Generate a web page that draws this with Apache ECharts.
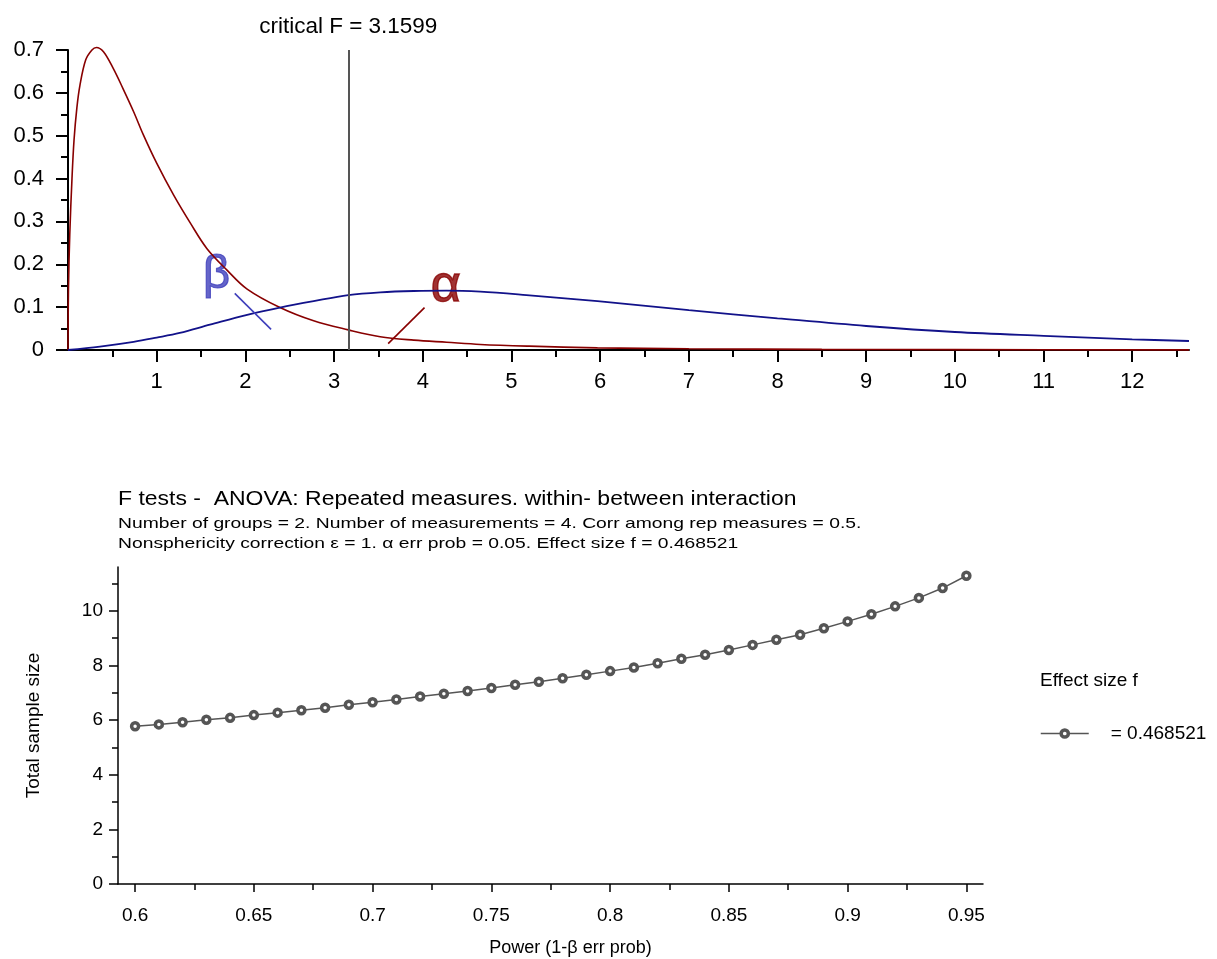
<!DOCTYPE html>
<html>
<head>
<meta charset="utf-8">
<title>F tests - ANOVA power plot</title>
<script src="https://cdn.jsdelivr.net/npm/echarts@6/dist/echarts.min.js"></script>
<style>
  html, body { margin: 0; padding: 0; background: #fff; }
  #chart { width: 1217px; height: 959px; }
</style>
</head>
<body>
<div id="chart"></div>
<script>
// ---- top plot: H0 (central) and H1 (noncentral) F densities ----
const h0X = [0, 0.005, 0.02, 0.045, 0.068, 0.1, 0.135, 0.2, 0.27, 0.32, 0.4, 0.51, 0.62, 0.74, 0.85,
  1.0, 1.19, 1.38, 1.565, 1.79, 2.02, 2.39, 2.77, 3.16, 3.52, 3.9, 4.27, 4.65, 5.2, 5.97, 7.0, 8.5, 10.0, 12.64]
const h0Y = [0, 0.14, 0.27, 0.40, 0.49, 0.565, 0.618, 0.677, 0.700, 0.706, 0.696, 0.657, 0.610, 0.556, 0.502,
  0.436, 0.362, 0.296, 0.237, 0.187, 0.142, 0.099, 0.068, 0.047, 0.031, 0.023, 0.018, 0.013, 0.009, 0.005, 0.003, 0.0015, 0.0008, 0.0003]

const h1X = [0, 0.36, 0.74, 1.0, 1.26, 1.6, 2.02, 2.39, 2.77, 3.16, 3.52, 3.9, 4.27, 4.65, 5.17, 5.97,
  7.0, 8.0, 9.0, 10.0, 11.0, 12.0, 12.64]
const h1Y = [0, 0.008, 0.019, 0.029, 0.040, 0.059, 0.082, 0.099, 0.114, 0.128, 0.1346, 0.1377, 0.1385, 0.136, 0.128, 0.114,
  0.093, 0.074, 0.056, 0.042, 0.033, 0.025, 0.021]

const criticalF = 3.1599

// little pointer strokes for the beta / alpha areas
const betaLineX = [1.88, 2.29]
const betaLineY = [0.132, 0.048]
const alphaLineX = [4.02, 3.61]
const alphaLineY = [0.099, 0.015]
const betaLabelAt = [1.676, 0.175]
const alphaLabelAt = [4.26, 0.147]

const topXTicks = [1, 2, 3, 4, 5, 6, 7, 8, 9, 10, 11, 12]

// ---- bottom plot: total sample size vs power ----
const power = [0.60, 0.61, 0.62, 0.63, 0.64, 0.65, 0.66, 0.67, 0.68, 0.69, 0.70, 0.71,
  0.72, 0.73, 0.74, 0.75, 0.76, 0.77, 0.78, 0.79, 0.80, 0.81, 0.82, 0.83,
  0.84, 0.85, 0.86, 0.87, 0.88, 0.89, 0.90, 0.91, 0.92, 0.93, 0.94, 0.95]
const sampleSize = [5.77, 5.84, 5.92, 6.01, 6.08, 6.18, 6.27, 6.36, 6.45, 6.56, 6.65, 6.75,
  6.86, 6.96, 7.06, 7.17, 7.29, 7.40, 7.53, 7.66, 7.79, 7.92, 8.08, 8.24,
  8.39, 8.56, 8.75, 8.94, 9.12, 9.36, 9.61, 9.87, 10.16, 10.47, 10.83, 11.28]

const powerTicks = [0.6, 0.65, 0.7, 0.75, 0.8, 0.85, 0.9, 0.95]
const powerMinorTicks = [0.625, 0.675, 0.725, 0.775, 0.825, 0.875, 0.925]
const sizeTicks = [0, 2, 4, 6, 8, 10]
const effectSizeLabel = '= 0.468521'

const titleText = 'F tests -  ANOVA: Repeated measures. within- between interaction'
const subLine1 = 'Number of groups = 2. Number of measurements = 4. Corr among rep measures = 0.5.'
const subLine2 = 'Nonsphericity correction ε = 1. α err prob = 0.05. Effect size f = 0.468521'

const FONT = '"Liberation Sans", Arial, sans-serif'
const RED = '#880000'
const NAVY = '#12128a'
const BETA_BLUE = '#3f3fbb'
const GREY = '#555'
const zip = (xs, ys) => xs.map((x, i) => [x, ys[i]])
const fmt = v => String(Math.round(v * 1000) / 1000)

const chart = echarts.init(document.getElementById('chart'))

const blackLine = w => ({ color: '#000', width: w })

chart.setOption({
  animation: false,
  backgroundColor: '#fff',
  textStyle: { fontFamily: FONT },
  grid: [
    { left: 68, right: 28, top: 50, bottom: 609 },
    { left: 118, right: 234, top: 567, bottom: 75 }
  ],
  xAxis: [
    {
      gridIndex: 0, type: 'value', min: 0, max: 12.64, interval: 1,
      axisLine: { onZero: false, lineStyle: blackLine(2) },
      axisTick: { customValues: topXTicks, length: 12, lineStyle: blackLine(2) },
      minorTick: { show: true, splitNumber: 2, length: 7, lineStyle: blackLine(2) },
      axisLabel: { customValues: topXTicks, margin: 21, fontSize: 22, color: '#000', fontFamily: FONT },
      splitLine: { show: false }
    },
    {
      gridIndex: 1, type: 'value', min: 0.5928, max: 0.957, position: 'bottom',
      axisLine: { onZero: false, lineStyle: blackLine(1.5) },
      axisTick: { customValues: powerTicks, length: 8, lineStyle: blackLine(1.5) },
      axisLabel: { customValues: powerTicks, margin: 22, fontSize: 19, color: '#000', fontFamily: FONT, formatter: fmt },
      splitLine: { show: false },
      name: 'Power (1-β err prob)', nameLocation: 'middle', nameGap: 55,
      nameTextStyle: { fontSize: 18, color: '#000', fontFamily: FONT, padding: [0, 0, 0, 40] }
    },
    {
      // minor ticks of the power axis
      gridIndex: 1, type: 'value', min: 0.5928, max: 0.957, position: 'bottom',
      axisLine: { show: false },
      axisTick: { customValues: powerMinorTicks, length: 6, lineStyle: blackLine(1.5) },
      axisLabel: { show: false },
      splitLine: { show: false }
    }
  ],
  yAxis: [
    {
      gridIndex: 0, type: 'value', min: 0, max: 0.7, interval: 0.1,
      axisLine: { show: true, onZero: false, lineStyle: blackLine(2) },
      axisTick: { show: true, length: 12, lineStyle: blackLine(2) },
      minorTick: { show: true, splitNumber: 2, length: 7, lineStyle: blackLine(2) },
      axisLabel: { margin: 24, fontSize: 22, color: '#000', fontFamily: FONT, formatter: fmt },
      splitLine: { show: false }
    },
    {
      gridIndex: 1, type: 'value', min: 0, max: 11.6, interval: 2,
      axisLine: { show: true, onZero: false, lineStyle: blackLine(1.5) },
      axisTick: { show: true, customValues: sizeTicks, length: 9, lineStyle: blackLine(1.5) },
      minorTick: { show: true, splitNumber: 2, length: 6, lineStyle: blackLine(1.5) },
      axisLabel: { customValues: sizeTicks, margin: 15, fontSize: 19, color: '#000', fontFamily: FONT },
      splitLine: { show: false },
      name: 'Total sample size', nameLocation: 'middle', nameGap: 75, nameRotate: 90,
      nameTextStyle: { fontSize: 19, color: '#000', fontFamily: FONT }
    }
  ],
  legend: {
    data: [effectSizeLabel],
    left: 1040, top: 724, padding: 0,
    itemWidth: 48, itemHeight: 9,
    selectedMode: false,
    itemStyle: { color: '#fff', borderColor: GREY, borderWidth: 3.5 },
    lineStyle: { color: GREY, width: 1.5 },
    textStyle: { fontSize: 19, color: '#000', fontFamily: FONT, padding: [0, 0, 0, 17] }
  },
  graphic: [
    { type: 'text', x: 118, y: 499, scaleX: 1.12, style: { text: titleText, font: '20.5px ' + FONT, fill: '#000', align: 'left', verticalAlign: 'middle' } },
    { type: 'text', x: 118, y: 524, scaleX: 1.33, style: { text: subLine1, font: '14.5px ' + FONT, fill: '#000', align: 'left', verticalAlign: 'middle' } },
    { type: 'text', x: 118, y: 544, scaleX: 1.33, style: { text: subLine2, font: '14.5px ' + FONT, fill: '#000', align: 'left', verticalAlign: 'middle' } },
    { type: 'text', x: 1040, y: 681, style: { text: 'Effect size f', font: '19px ' + FONT, fill: '#000', align: 'left', verticalAlign: 'middle' } }
  ],
  series: [
    {
      name: 'H0', type: 'line', xAxisIndex: 0, yAxisIndex: 0,
      data: zip(h0X, h0Y), symbol: 'none', smooth: 0.35, clip: false,
      lineStyle: { color: RED, width: 1.6 },
      markLine: {
        silent: true, symbol: 'none',
        lineStyle: { color: GREY, width: 2, type: 'solid' },
        label: { show: true, position: 'end', distance: 12, formatter: 'critical F = ' + criticalF,
          fontSize: 22.5, color: '#000', fontFamily: FONT },
        data: [{ xAxis: criticalF }]
      }
    },
    {
      name: 'H1', type: 'line', xAxisIndex: 0, yAxisIndex: 0,
      data: zip(h1X, h1Y), symbol: 'none', smooth: 0.35, clip: false,
      lineStyle: { color: NAVY, width: 1.8 }
    },
    {
      name: 'beta pointer', type: 'line', xAxisIndex: 0, yAxisIndex: 0,
      data: zip(betaLineX, betaLineY), symbol: 'none', lineStyle: { color: BETA_BLUE, width: 1.6 }
    },
    {
      name: 'alpha pointer', type: 'line', xAxisIndex: 0, yAxisIndex: 0,
      data: zip(alphaLineX, alphaLineY), symbol: 'none', lineStyle: { color: RED, width: 1.6 }
    },
    {
      name: 'beta', type: 'scatter', xAxisIndex: 0, yAxisIndex: 0,
      data: [betaLabelAt], symbolSize: 1, itemStyle: { color: 'rgba(0,0,0,0)' },
      label: { show: true, position: 'inside', formatter: 'β', fontSize: 47, color: BETA_BLUE, fontFamily: FONT,
        textBorderColor: BETA_BLUE, textBorderWidth: 1.2 }
    },
    {
      name: 'alpha', type: 'scatter', xAxisIndex: 0, yAxisIndex: 0,
      data: [alphaLabelAt], symbolSize: 1, itemStyle: { color: 'rgba(0,0,0,0)' },
      label: { show: true, position: 'inside', formatter: 'α', fontSize: 52, color: RED, fontFamily: FONT,
        textBorderColor: RED, textBorderWidth: 1.4 }
    },
    {
      name: effectSizeLabel, type: 'line', xAxisIndex: 1, yAxisIndex: 1,
      data: zip(power, sampleSize),
      symbol: 'circle', symbolSize: 7,
      itemStyle: { color: '#fff', borderColor: GREY, borderWidth: 3.5 },
      lineStyle: { color: GREY, width: 1.5 }
    }
  ]
})
</script>
</body>
</html>
